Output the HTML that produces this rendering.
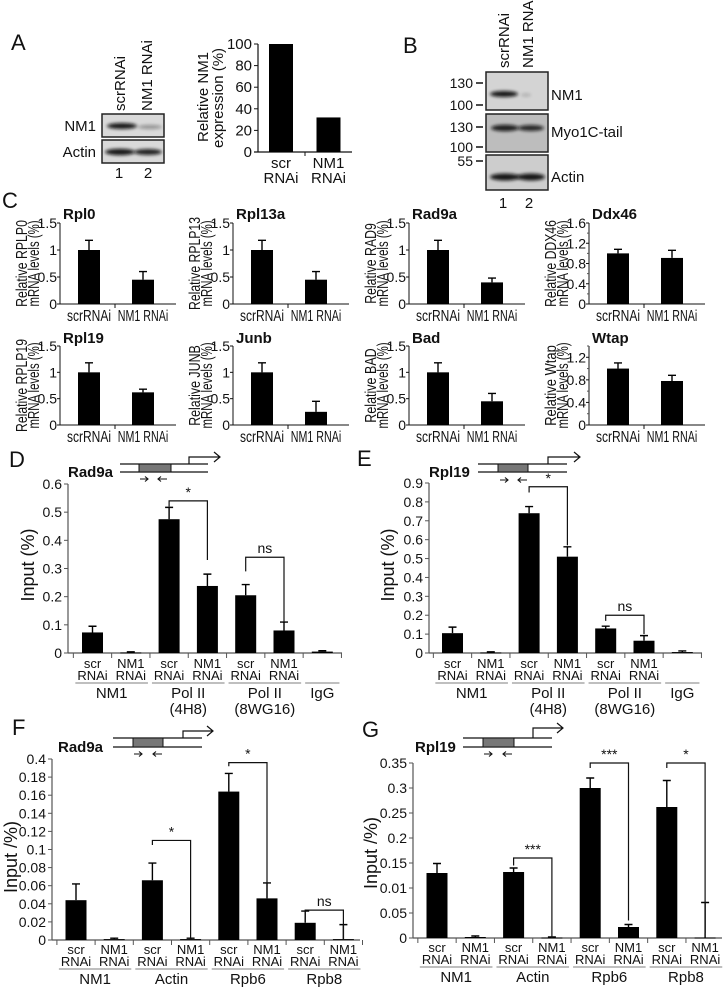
<!DOCTYPE html>
<html><head><meta charset="utf-8"><title>NM1 RNAi figure</title>
<style>
html,body{margin:0;padding:0;background:#fff;}
svg{display:block;font-family:"Liberation Sans",Arial,sans-serif;}
</style></head>
<body>
<svg id="fig" width="723" height="992" viewBox="0 0 723 992" xmlns="http://www.w3.org/2000/svg">
<defs>
<filter id="blur1" x="-20%" y="-100%" width="140%" height="300%"><feGaussianBlur stdDeviation="1.6"/></filter>
</defs>
</svg>
<script>
// ===== Panel A data =====
const aCategories = ['scr', 'NM1'];
const aValues = [100, 32];
const aTicks = [0, 20, 40, 60, 80, 100];
// ===== Panel C data =====
const cTitles = ['Rpl0','Rpl13a','Rad9a','Ddx46','Rpl19','Junb','Bad','Wtap'];
const cYLabels = ['Relative RPLP0','Relative RPLP13','Relative RAD9','Relative DDX46','Relative RPLP19','Relative JUNB','Relative BAD','Relative Wtap'];
const cScrValues = [1.0, 1.0, 1.0, 1.0, 1.0, 1.0, 1.0, 1.0];
const cScrErrors = [0.18, 0.18, 0.18, 0.08, 0.18, 0.18, 0.18, 0.1];
const cNmValues = [0.45, 0.45, 0.4, 0.91, 0.62, 0.25, 0.45, 0.78];
const cNmErrors = [0.15, 0.15, 0.08, 0.15, 0.06, 0.2, 0.15, 0.1];
const cMax = [1.5, 1.5, 1.5, 1.6, 1.5, 1.5, 1.5, 1.4];
const cTickVals = [[0,0.5,1,1.5],[0,0.5,1,1.5],[0,0.5,1,1.5],[0,0.4,0.8,1.2,1.6],[0,0.5,1,1.5],[0,0.5,1,1.5],[0,0.5,1,1.5],[0,0.4,0.8,1.2]];
const cTickLabels = [['0','0.5','1','1.5'],['0','0.5','1','1.5'],['0','0.5','1','1.5'],['0','0.4','0.8','1.2','1.6'],['0','0.5','1','1.5'],['0','0.5','1','1.5'],['0','0.5','1','1.5'],['0','0.4','0.8','1.2']];
const cMinorTicks = [[],[],[],[0.2,0.6,1.0,1.4],[],[],[],[0.2,0.6,1.0,1.4]];
// ===== Panel D data =====
const dValues = [0.073, 0.002, 0.475, 0.238, 0.205, 0.08, 0.005];
const dErrors = [0.022, 0.002, 0.042, 0.042, 0.038, 0.03, 0.003];
const dTicks = [0, 0.1, 0.2, 0.3, 0.4, 0.5, 0.6];
const dTickLabels = ['0','0.1','0.2','0.3','0.4','0.5','0.6'];
// ===== Panel E data =====
const eValues = [0.105, 0.003, 0.74, 0.51, 0.13, 0.065, 0.005];
const eErrors = [0.032, 0.003, 0.035, 0.052, 0.012, 0.027, 0.006];
const eTicks = [0, 0.1, 0.2, 0.3, 0.4, 0.5, 0.6, 0.7, 0.8, 0.9];
const eTickLabels = ['0','0.1','0.2','0.3','0.4','0.5','0.6','0.7','0.8','0.9'];
// ===== Panel F data =====
const fValues = [0.044, 0.001, 0.066, 0.001, 0.164, 0.046, 0.019, 0.001];
const fErrors = [0.018, 0.001, 0.019, 0.001, 0.02, 0.017, 0.013, 0.016];
const fTicks = [0, 0.02, 0.04, 0.06, 0.08, 0.1, 0.12, 0.14, 0.16, 0.18, 0.2];
const fTickLabels = ['0','0.02','0.04','0.06','0.08','0.1','0.12','0.14','0.16','0.18','0.4'];
// ===== Panel G data =====
const gValues = [0.13, 0.002, 0.132, 0.001, 0.3, 0.022, 0.262, 0.001];
const gErrors = [0.019, 0.002, 0.008, 0.001, 0.02, 0.005, 0.053, 0.07];
const gTicks = [0, 0.05, 0.1, 0.15, 0.2, 0.25, 0.3, 0.35];
const gTickLabels = ['0','0.05','0.01','0.15','0.2','0.25','0.3','0.35'];
const ipCatTop = ['scr','NM1','scr','NM1','scr','NM1','scr','NM1'];
const dGroups = [['NM1','',0,1],['Pol II','(4H8)',2,3],['Pol II','(8WG16)',4,5],['IgG','',6,6]];
const fGroups = [['NM1','',0,1],['Actin','',2,3],['Rpb6','',4,5],['Rpb8','',6,7]];
// brackets: [barI, barJ, topValue, leftLegValue, rightLegValue, label]
const dBrackets = [[2,3,0.54,0.52,0.33,'*'],[4,5,0.34,0.29,0.11,'ns']];
const eBrackets = [[2,3,0.88,0.85,0.57,'*'],[4,5,0.2,0.17,0.1,'ns']];
const fBrackets = [[2,3,0.11,0.105,0.0,'*'],[4,5,0.196,0.192,0.047,'*'],[6,7,0.033,0.025,0.0,'ns']];
const gBrackets = [[2,3,0.16,0.145,0.0,'***'],[4,5,0.35,0.34,0.035,'***'],[6,7,0.35,0.34,0.01,'*']];

const NS = 'http://www.w3.org/2000/svg';
const svg = document.getElementById('fig');
function mk(tag, attrs, parent) {
  const e = document.createElementNS(NS, tag);
  for (const k in attrs) e.setAttribute(k, attrs[k]);
  (parent || svg).appendChild(e);
  return e;
}
function txt(s, x, y, size, anchor, parent, weight) {
  const t = mk('text', {x: x, y: y, 'font-size': size, 'text-anchor': anchor || 'middle', fill: '#111', 'font-weight': weight || 'normal'}, parent);
  t.textContent = s;
  return t;
}
function yS(v, ax) { return ax.y0 - (v - ax.min) / (ax.max - ax.min) * (ax.y0 - ax.yTop); }

// ===== Panel letters =====
const letters = [['A',11,50],['B',403,53],['C',2,208],['D',9,467],['E',357,466],['F',12,735],['G',362,737]];
letters.forEach(function(L){
  const t = txt(L[0], L[1], L[2], 22, 'start');
  
  
});

// ===== Blots =====
function blotRow(g, x, y, w, h, bands, fill) {
  const r = mk('rect', {x: x, y: y, width: w, height: h, fill: fill, stroke: '#222', 'stroke-width': 1.5}, g);
  
  
  bands.forEach(function(b){
    const e = mk('ellipse', {cx: b[0], cy: b[1], rx: b[2], ry: b[3], fill: '#111', opacity: b[4], filter: 'url(#blur1)'}, g);
    
    
  });
}
function rotLabel(s, x, y, size, parent) {
  const t = mk('text', {x: 0, y: 0, 'font-size': size, 'text-anchor': 'start', fill: '#111', transform: 'translate(' + x + ',' + y + ') rotate(-90)'}, parent);
  t.textContent = s;
  return t;
}
// Panel A blot
const gA = mk('g', {});


blotRow(gA, 102, 114, 62, 23, [[122,126,15,3,0.95],[150,127,12,2,0.35]], '#d9d9d9');
blotRow(gA, 102, 140, 62, 23, [[120,152,15,3.2,0.95],[148,152,14,3,0.9]], '#d9d9d9');
[['NM1',96,131],['Actin',96,157]].forEach(function(l){
  const t = txt(l[0], l[1], l[2], 15, 'end', gA);
  
  
});
[['scrRNAi',125,111],['NM1 RNAi',152,111]].forEach(function(l){
  const t = rotLabel(l[0], l[1], l[2], 15, gA);
  
  
});
[['1',119,178],['2',148,178]].forEach(function(l){
  const t = txt(l[0], l[1], l[2], 15, 'middle', gA);
  
  
});
// Panel B blot
const gB = mk('g', {});


blotRow(gB, 486, 72, 62, 38, [[504,94,14,3,0.95],[526,95,5,1.5,0.2]], '#d4d4d4');
blotRow(gB, 486, 114, 62, 38, [[505,128,14,3.2,0.9],[531,128,13,3,0.85]], '#bdbdbd');
blotRow(gB, 486, 155, 62, 35, [[505,177,15,3.5,0.95],[531,177,14,3.5,0.95]], '#cdcdcd');
[['130',83],['100',105],['130',127],['100',147],['55',161]].forEach(function(m){
  const t = txt(m[0] + '', 473, m[1] + 5, 14, 'end', gB);
  
  
  const l = mk('line', {x1: 476, x2: 483, y1: m[1], y2: m[1], stroke: '#111', 'stroke-width': 1.5}, gB);
  
  
});
[['NM1',551,100],['Myo1C-tail',551,137],['Actin',551,182]].forEach(function(l){
  const t = txt(l[0], l[1], l[2], 15, 'start', gB);
  
  
});
[['scrRNAi',509,68],['NM1 RNAi',533,68]].forEach(function(l){
  const t = rotLabel(l[0], l[1], l[2], 15, gB);
  
  
});
[['1',503,208],['2',529,208]].forEach(function(l){
  const t = txt(l[0], l[1], l[2], 15, 'middle', gB);
  
  
});

// ===== Panel A chart =====
(function(){
  const g = mk('g', {});
  
  
  const ax = {x0: 258, xEnd: 352, y0: 152, yTop: 44, min: 0, max: 100};
  const yl = mk('line', {x1: ax.x0, x2: ax.x0, y1: ax.y0, y2: ax.yTop, stroke: '#111', 'stroke-width': 1.2}, g);
  
  
  const xl = mk('line', {x1: ax.x0 - 4, x2: ax.xEnd, y1: ax.y0, y2: ax.y0, stroke: '#111', 'stroke-width': 1.2}, g);
  
  
  aTicks.forEach(function(v){
    const y = yS(v, ax);
    const tk = mk('line', {x1: ax.x0 - 4, x2: ax.x0, y1: y, y2: y, stroke: '#111'}, g);
    
    
    const t = txt(String(v), ax.x0 - 6, y + 5, 15, 'end', g);
    
    
  });
  const mid = mk('line', {x1: 305, x2: 305, y1: ax.y0, y2: ax.y0 + 4, stroke: '#111'}, g);
  
  
  aValues.forEach(function(v, i){
    const cx = 281 + i * 47.5;
    const b = mk('rect', {x: cx - 12, y: yS(v, ax), width: 24, height: ax.y0 - yS(v, ax), fill: '#000'}, g);
    
    
    const t1 = txt(aCategories[i], cx, 168, 15, 'middle', g);
    
    
    const t2 = txt('RNAi', cx, 183, 15, 'middle', g);
    
    
  });
  const y1 = rotLabel('Relative NM1', 208, 142, 15, g);
  
  
  const y2 = rotLabel('expression (%)', 223, 148, 15, g);
  
  
})();

// ===== Panel C charts =====
const cCols = [60, 233, 409, 589];
const cRows = [[304, 223, 219], [425, 346, 343]];
cTitles.forEach(function(title, k){
  const g = mk('g', {});
  
  
  const col = k % 4, row = Math.floor(k / 4);
  const ax = {x0: cCols[col], xEnd: cCols[col] + 116, y0: cRows[row][0], yTop: cRows[row][1], min: 0, max: cMax[k]};
  const tt = txt(title, ax.x0 + 3, cRows[row][2], 15, 'start', g, 'bold');
  
  
  const yl = mk('line', {x1: ax.x0, x2: ax.x0, y1: ax.y0, y2: ax.yTop, stroke: '#111'}, g);
  
  
  const xl = mk('line', {x1: ax.x0, x2: ax.xEnd, y1: ax.y0, y2: ax.y0, stroke: '#111'}, g);
  
  
  const sep = mk('line', {x1: ax.x0 + 55, x2: ax.x0 + 55, y1: ax.y0, y2: ax.y0 + 4, stroke: '#111'}, g);
  
  
  cTickVals[k].forEach(function(v, j){
    const y = yS(v, ax);
    const tk = mk('line', {x1: ax.x0 - 3, x2: ax.x0, y1: y, y2: y, stroke: '#111'}, g);
    
    
    const t = txt(cTickLabels[k][j], ax.x0 - 3, y + 5, 14, 'end', g);
    
    
  });
  cMinorTicks[k].forEach(function(v){
    const y = yS(v, ax);
    const tk = mk('line', {x1: ax.x0 - 2, x2: ax.x0, y1: y, y2: y, stroke: '#555'}, g);
    
    
  });
  const vals = [cScrValues[k], cNmValues[k]], errs = [cScrErrors[k], cNmErrors[k]], labs = ['scrRNAi', 'NM1 RNAi'];
  vals.forEach(function(v, i){
    const cx = ax.x0 + 29 + i * 54;
    const b = mk('rect', {x: cx - 11, y: yS(v, ax), width: 22, height: ax.y0 - yS(v, ax), fill: '#000'}, g);
    
    
    const ye = yS(v + errs[i], ax);
    const e = mk('path', {d: 'M' + cx + ' ' + yS(v, ax) + 'V' + ye + 'M' + (cx - 4) + ' ' + ye + 'H' + (cx + 4), stroke: '#000', 'stroke-width': 1.4, fill: 'none'}, g);
    
    
    const t = txt(labs[i], cx, ax.y0 + 17, 16, 'middle', g);
    t.setAttribute('textLength', labs[i].length * 6.3);
    t.setAttribute('lengthAdjust', 'spacingAndGlyphs');
    
    
  });
  const yc = (ax.y0 + ax.yTop) / 2;
  const l1 = mk('text', {x: 0, y: 0, 'font-size': 16, 'text-anchor': 'middle', fill: '#111', textLength: cYLabels[k].length * 6.2, lengthAdjust: 'spacingAndGlyphs', transform: 'translate(' + (ax.x0 - 33) + ',' + yc + ') rotate(-90)'}, g);
  l1.textContent = cYLabels[k];
  
  
  const l2 = mk('text', {x: 0, y: 0, 'font-size': 16, 'text-anchor': 'middle', fill: '#111', textLength: 86, lengthAdjust: 'spacingAndGlyphs', transform: 'translate(' + (ax.x0 - 21) + ',' + yc + ') rotate(-90)'}, g);
  l2.textContent = 'mRNA levels (%)';
  
  
});

// ===== Gene diagrams =====
function gene(name, o) {
  const g = mk('g', {});
  
  
  const t = txt(name, o.lx, o.yb + 5, 15, 'start', g, 'bold');
  
  
  const p = mk('path', {d: 'M' + o.x1 + ' ' + o.yt + 'H' + o.x2 + 'M' + o.x1 + ' ' + o.yb + 'H' + o.x2, stroke: '#111', 'stroke-width': 1.3, fill: 'none'}, g);
  
  
  const r = mk('rect', {x: o.bx1, y: o.yt, width: o.bx2 - o.bx1, height: o.yb - o.yt, fill: '#777', stroke: '#111', 'stroke-width': 1}, g);
  
  
  const a = mk('path', {d: 'M' + o.tss + ' ' + o.yt + 'V' + o.at + 'H' + o.ae + 'M' + (o.ae - 6) + ' ' + (o.at - 5) + 'L' + o.ae + ' ' + o.at + 'L' + (o.ae - 6) + ' ' + (o.at + 5), stroke: '#111', 'stroke-width': 1.2, fill: 'none'}, g);
  
  
  const pr = mk('path', {d: 'M' + o.p1 + ' ' + o.py + 'h8m-3 -2.5l3 2.5l-3 2.5M' + (o.p2 + 9) + ' ' + o.py + 'h-9m3 -2.5l-3 2.5l3 2.5', stroke: '#111', 'stroke-width': 1.1, fill: 'none'}, g);
  
  
}
gene('Rad9a', {lx: 68, x1: 120, x2: 208, yt: 464, yb: 472, bx1: 139, bx2: 171, tss: 189, at: 457, ae: 220, py: 479, p1: 140, p2: 158});
gene('Rpl19', {lx: 429, x1: 478, x2: 567, yt: 464, yb: 472, bx1: 498, bx2: 528, tss: 548, at: 457, ae: 580, py: 480, p1: 500, p2: 518});
gene('Rad9a', {lx: 58, x1: 113, x2: 202, yt: 738, yb: 747, bx1: 133, bx2: 163, tss: 183, at: 731, ae: 213, py: 754, p1: 134, p2: 153});
gene('Rpl19', {lx: 415, x1: 463, x2: 552, yt: 738, yb: 747, bx1: 483, bx2: 514, tss: 533, at: 728, ae: 563, py: 754, p1: 484, p2: 503});

// ===== ChIP charts =====
function ipChart(o) {
  const g = mk('g', {});
  
  
  const ax = o.ax;
  const yl = mk('line', {x1: ax.x0, x2: ax.x0, y1: ax.y0, y2: ax.yTop, stroke: '#555', 'stroke-width': 1.2}, g);
  
  
  const xl = mk('line', {x1: ax.x0, x2: ax.xEnd, y1: ax.y0, y2: ax.y0, stroke: '#555', 'stroke-width': 1.2}, g);
  
  
  o.ticks.forEach(function(v, j){
    const y = yS(v, ax);
    const tk = mk('line', {x1: ax.x0 - 4, x2: ax.x0, y1: y, y2: y, stroke: '#555'}, g);
    
    
    const t = txt(o.tickLabels[j], ax.x0 - 6, y + 5, 14, 'end', g);
    
    
  });
  const n = o.values.length;
  for (let i = 0; i <= n; i++) {
    const x = o.bx0 + (i - 0.5) * o.step;
    const tk = mk('line', {x1: x, x2: x, y1: ax.y0, y2: ax.y0 + 5, stroke: '#555'}, g);
    
    
  }
  o.values.forEach(function(v, i){
    const cx = o.bx0 + i * o.step;
    const yv = yS(v, ax);
    const b = mk('rect', {x: cx - o.bw / 2, y: yv, width: o.bw, height: Math.max(ax.y0 - yv, 1), fill: '#000'}, g);
    
    
    const ye = yS(v + o.errors[i], ax);
    const e = mk('path', {d: 'M' + cx + ' ' + yv + 'V' + ye + 'M' + (cx - 4) + ' ' + ye + 'H' + (cx + 4), stroke: '#000', 'stroke-width': 1.4, fill: 'none'}, g);
    
    
  });
  o.groups.forEach(function(gr){
    for (let i = gr[2]; i <= gr[3]; i++) {
      if (gr[0] === 'IgG') continue;
      const cx = o.bx0 + i * o.step;
      const t1 = txt(ipCatTop[i], cx, o.labY, 13, 'middle', g);
      
      
      const t2 = txt('RNAi', cx, o.labY + 12, 13, 'middle', g);
      
      
    }
    const xa = o.bx0 + (gr[2] - 0.5) * o.step + 2, xb = o.bx0 + (gr[3] + 0.5) * o.step - 2;
    const gl = mk('line', {x1: xa, x2: xb, y1: o.lineY, y2: o.lineY, stroke: '#999', 'stroke-width': 1.3}, g);
    
    
    const gt = txt(gr[0], (xa + xb) / 2, o.lineY + 15, 15, 'middle', g);
    
    
    if (gr[1]) {
      const gt2 = txt(gr[1], (xa + xb) / 2, o.lineY + 31, 15, 'middle', g);
      
      
    }
  });
  o.brackets.forEach(function(br){
    const xi = o.bx0 + br[0] * o.step, xj = o.bx0 + br[1] * o.step;
    const yt = yS(br[2], ax);
    const p = mk('path', {d: 'M' + xi + ' ' + yS(br[3], ax) + 'V' + yt + 'H' + xj + 'V' + yS(br[4], ax), stroke: '#111', 'stroke-width': 1.2, fill: 'none'}, g);
    
    
    const t = txt(br[5], (xi + xj) / 2, yt - 4, 14, 'middle', g);
    
    
  });
  const yt = mk('text', {x: 0, y: 0, 'font-size': 18, 'text-anchor': 'middle', fill: '#111', transform: 'translate(' + o.ylx + ',' + o.yly + ') rotate(-90)'}, g);
  yt.textContent = o.ylabel;
  
  
}
ipChart({name: 'panel-d-chart', ax: {x0: 68, xEnd: 342, y0: 653, yTop: 484, min: 0, max: 0.6}, ticks: dTicks, tickLabels: dTickLabels, values: dValues, errors: dErrors, bx0: 92.5, step: 38.3, bw: 21, groups: dGroups, brackets: dBrackets, labY: 668, lineY: 683, ylabel: 'Input (%)', ylx: 34, yly: 565});
ipChart({name: 'panel-e-chart', ax: {x0: 429, xEnd: 702, y0: 653, yTop: 483, min: 0, max: 0.9}, ticks: eTicks, tickLabels: eTickLabels, values: eValues, errors: eErrors, bx0: 452.5, step: 38.3, bw: 21, groups: dGroups, brackets: eBrackets, labY: 668, lineY: 683, ylabel: 'Input (%)', ylx: 394, yly: 565});
ipChart({name: 'panel-f-chart', ax: {x0: 52, xEnd: 360, y0: 940, yTop: 759, min: 0, max: 0.2}, ticks: fTicks, tickLabels: fTickLabels, values: fValues, errors: fErrors, bx0: 76, step: 38.2, bw: 21, groups: fGroups, brackets: fBrackets, labY: 954, lineY: 969, ylabel: 'Input /%)', ylx: 17, yly: 857});
ipChart({name: 'panel-g-chart', ax: {x0: 413, xEnd: 722, y0: 938, yTop: 763, min: 0, max: 0.35}, ticks: gTicks, tickLabels: gTickLabels, values: gValues, errors: gErrors, bx0: 437, step: 38.3, bw: 21, groups: fGroups, brackets: gBrackets, labY: 952, lineY: 967, ylabel: 'Input /%)', ylx: 377, yly: 853});
</script>
</body></html>
